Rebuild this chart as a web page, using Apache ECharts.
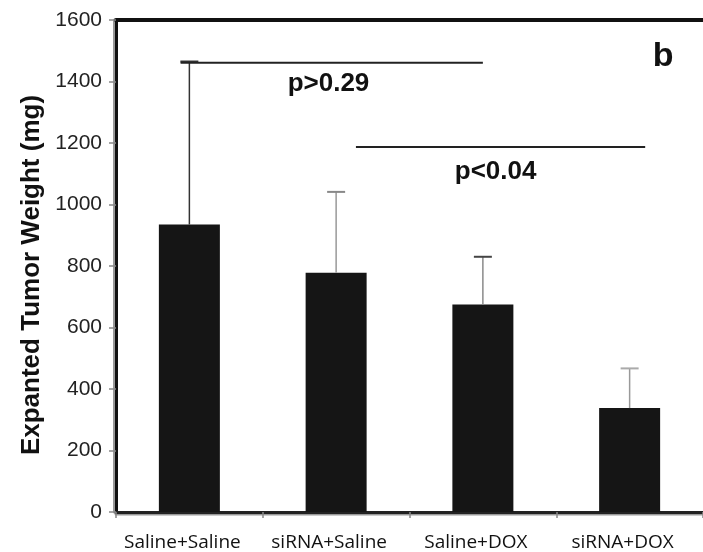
<!DOCTYPE html>
<html>
<head>
<meta charset="utf-8">
<script src="https://cdn.jsdelivr.net/npm/echarts@6/dist/echarts.min.js"></script>
<style>
html,body{margin:0;padding:0;background:#fff;}
#chart{width:703px;height:552px;}
</style>
</head>
<body>
<div id="chart"></div>
<script>
// ---- data ----
const categories = ['Saline+Saline', 'siRNA+Saline', 'Saline+DOX', 'siRNA+DOX'];
const meanWeight = [935, 778, 675, 338];
const errorTop = [1465, 1041, 830, 467];
const yTicks = { min: 0, max: 1600, step: 200 };
const yTitle = 'Expanted Tumor Weight (mg)';
// significance brackets (category index units, value units)
const sigFrom = [-0.06, 1.135];
const sigTo = [2.0, 3.106];
const sigLevel = [1461, 1187];
const sigText = ['p>0.29', 'p<0.04'];
const sigTextX = [0.948, 2.087];
const sigTextLevel = [1394, 1107];
const panelText = 'b';
const panelX = 3.228;
const panelLevel = 1480;

// ---- styles ----
const errLineColors = ['#333', '#999', '#8a8a8a', '#999'];
const errCapColors = ['#333', '#888', '#444', '#aaa'];

function xAt(api, v) {
  let i = Math.round(v);
  if (i < 0) i = 0;
  if (i > categories.length - 1) i = categories.length - 1;
  const bw = api.size([1, 0])[0];
  return api.coord([i, 0])[0] + (v - i) * bw;
}
function yAt(api, val) {
  return api.coord([0, val])[1];
}

const chart = echarts.init(document.getElementById('chart'), null, { renderer: 'canvas' });
const option = {
  animation: false,
  backgroundColor: '#fff',
  grid: { left: 116, top: 20, width: 597, bottom: 39, containLabel: false },
  xAxis: [
    {
      type: 'category',
      data: categories,
      position: 'bottom',
      axisLine: { show: true, lineStyle: { color: '#222', width: 3, shadowColor: '#999', shadowOffsetY: 1.5 } },
      axisTick: { show: true, interval: 0, length: 6, lineStyle: { color: '#888', width: 1.5 } },
      axisLabel: { interval: 0, color: '#111', fontFamily: '"Open Sans"', fontSize: 19, margin: 21, padding: [0, 14, 0, 0] },
      splitLine: { show: false }
    },
    {
      type: 'category',
      data: categories,
      position: 'top',
      axisLine: { show: true, lineStyle: { color: '#111', width: 4 } },
      axisTick: { show: false },
      axisLabel: { show: false },
      splitLine: { show: false }
    }
  ],
  yAxis: {
    type: 'value',
    min: yTicks.min,
    max: yTicks.max,
    interval: yTicks.step,
    name: yTitle,
    nameLocation: 'middle',
    nameGap: 70,
    nameTextStyle: { fontFamily: '"Liberation Sans", Arial', fontWeight: 'bold', fontSize: 26, color: '#111', padding: [0, 18, 0, 0] },
    axisLine: { show: true, lineStyle: { color: '#111', width: 3, shadowColor: '#999', shadowOffsetX: -2 } },
    axisTick: { show: true, inside: false, length: 7, lineStyle: { color: '#888', width: 1.5 } },
    axisLabel: { color: '#222', fontFamily: '"Liberation Sans", Arial', fontSize: 21, margin: 14, formatter: (v) => String(v) },
    splitLine: { show: false }
  },
  series: [
    {
      type: 'bar',
      data: meanWeight,
      barWidth: 61,
      itemStyle: { color: '#151515' },
      z: 2
    },
    {
      type: 'custom',
      data: meanWeight.map((v, i) => [i, errorTop[i]]),
      z: 3,
      renderItem: function (params, api) {
        const i = params.dataIndex;
        const x = api.coord([i, 0])[0];
        const yb = yAt(api, meanWeight[i]);
        const yt = yAt(api, errorTop[i]);
        return {
          type: 'group',
          children: [
            { type: 'line', shape: { x1: x, y1: yb, x2: x, y2: yt }, style: { stroke: errLineColors[i], lineWidth: 1.5 } },
            { type: 'line', shape: { x1: x - 9, y1: yt, x2: x + 9, y2: yt }, style: { stroke: errCapColors[i], lineWidth: 2 } }
          ]
        };
      }
    },
    {
      type: 'custom',
      data: sigLevel.map((v) => [0, v]),
      z: 4,
      renderItem: function (params, api) {
        const k = params.dataIndex;
        const y = yAt(api, sigLevel[k]);
        return {
          type: 'group',
          children: [
            { type: 'line', shape: { x1: xAt(api, sigFrom[k]), y1: y, x2: xAt(api, sigTo[k]), y2: y }, style: { stroke: '#222', lineWidth: 1.8 } },
            { type: 'text', style: { text: sigText[k], x: xAt(api, sigTextX[k]), y: yAt(api, sigTextLevel[k]), align: 'center', verticalAlign: 'middle', fontFamily: '"Liberation Sans", Arial', fontWeight: 'bold', fontSize: 26, fill: '#111' } }
          ]
        };
      }
    },
    {
      type: 'custom',
      data: [[0, panelLevel]],
      z: 4,
      renderItem: function (params, api) {
        return {
          type: 'text',
          style: { text: panelText, x: xAt(api, panelX), y: yAt(api, panelLevel), align: 'center', verticalAlign: 'middle', fontFamily: '"Liberation Sans", Arial', fontWeight: 'bold', fontSize: 34, fill: '#111' }
        };
      }
    }
  ]
};
chart.setOption(option);
</script>
</body>
</html>
